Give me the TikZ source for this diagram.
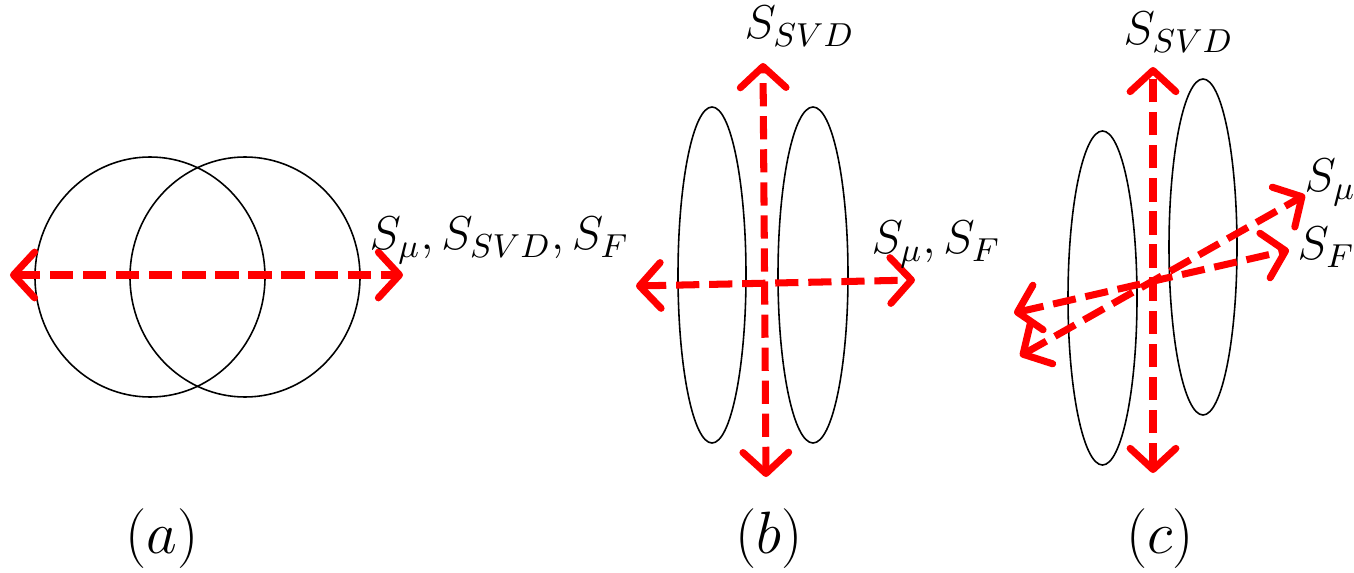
\RequirePackage{fix-cm}
\documentclass[tikz,border=0pt]{standalone}
\usetikzlibrary{arrows.meta}
\begin{document}
\begin{tikzpicture}[x=0.01cm,y=-0.01cm,
  outline/.style={draw=black,line width=0.45pt},
  axisarrow/.style={draw=red,line width=2pt,dash pattern=on 6.6pt off 2.8pt,
    {Straight Barb[length=6pt,width=13pt,round]}-{Straight Barb[length=6pt,width=13pt,round]}},
  labeltext/.style={inner sep=0pt,anchor=base west,font=\fontsize{13.5}{16}\selectfont},
  subcaption/.style={inner sep=0pt,anchor=base,font=\fontsize{17}{20}\selectfont}]
\useasboundingbox (0,0) rectangle (1354,573);
% (a)
\draw[outline] (150,277) ellipse [x radius=115, y radius=120];
\draw[outline] (245,277) ellipse [x radius=115, y radius=120];
\coordinate (a1) at (10,275);
\coordinate (a2) at (403,275);
\draw[axisarrow] (a1) -- (a2);
\node[labeltext] (la) at (369,250) {$S_\mu, S_{SVD}, S_F$};
\node[subcaption] (ca) at (162,553) {$(a)$};
% (b)
\draw[outline] (712,275) ellipse [x radius=34, y radius=168];
\draw[outline] (813,275) ellipse [x radius=35, y radius=168];
\coordinate (bv1) at (763,63);
\coordinate (bv2) at (766,477);
\coordinate (bh1) at (636,286);
\coordinate (bh2) at (915,280);
\draw[axisarrow] (bv2) -- (bv1);
\draw[axisarrow] (bh1) -- (bh2);
\node[labeltext] (lb1) at (744,39) {$S_{SVD}$};
\node[labeltext] (lb2) at (871,254) {$S_\mu, S_F$};
\node[subcaption] (cb) at (769,553) {$(b)$};
% (c)
\draw[outline] (1102.5,298) ellipse [x radius=34.5, y radius=167];
\draw[outline] (1203,247) ellipse [x radius=34, y radius=168];
\coordinate (cv1) at (1153,67);
\coordinate (cv2) at (1153,473);
\coordinate (cm1) at (1020,356);
\coordinate (cm2) at (1305,195);
\coordinate (cf1) at (1014,313);
\coordinate (cf2) at (1289,250);
\draw[axisarrow] (cv2) -- (cv1);
\draw[axisarrow] (cm1) -- (cm2);
\draw[axisarrow] (cf1) -- (cf2);
\node[labeltext] (lc1) at (1123,45) {$S_{SVD}$};
\node[labeltext] (lc2) at (1304,192) {$S_\mu$};
\node[labeltext] (lc3) at (1297,260) {$S_F$};
\node[subcaption] (cc) at (1160,553) {$(c)$};
\end{tikzpicture}
\end{document}
